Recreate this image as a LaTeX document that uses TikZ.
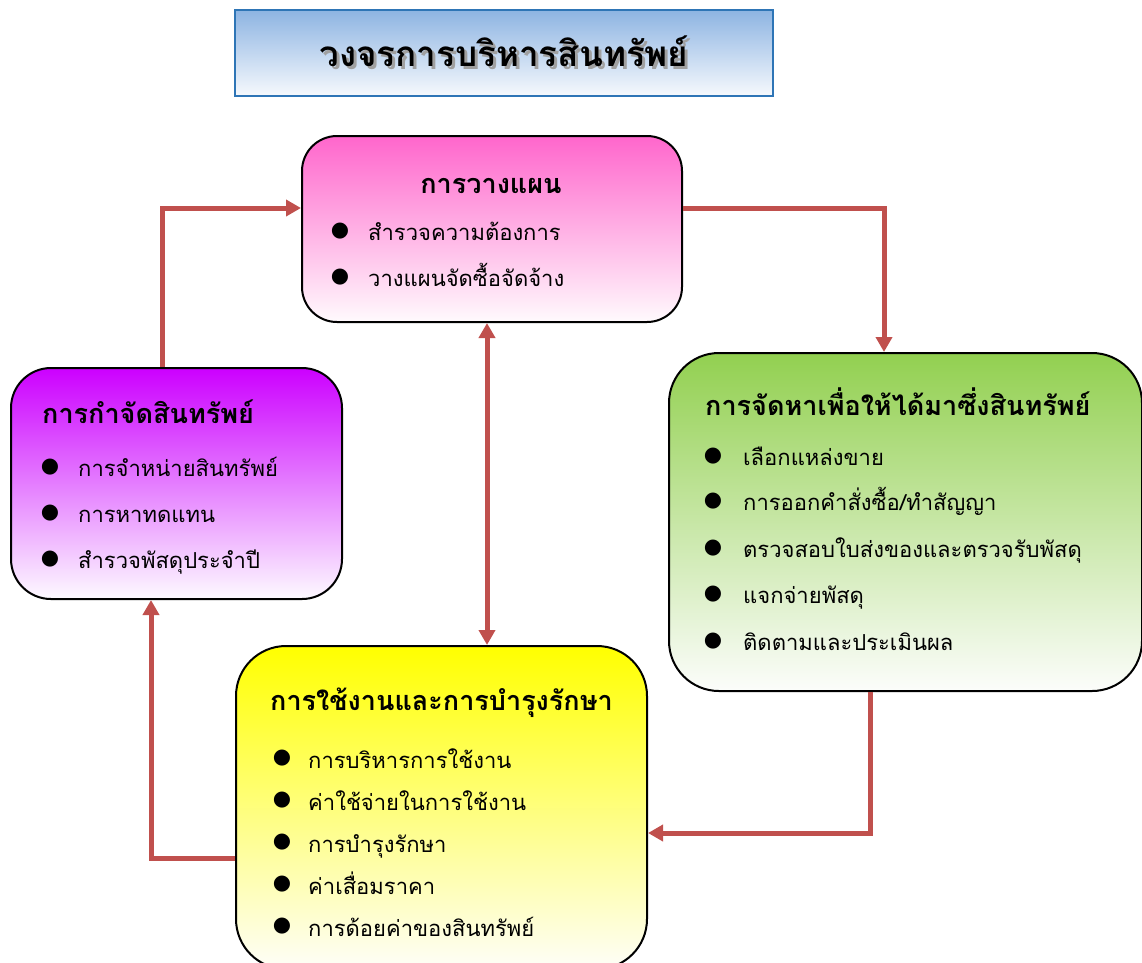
\documentclass[tikz,border=0pt]{standalone}
\usepackage{fontspec}
\newfontfamily\thai[Script=Thai]{Loma}
\newfontfamily\sym{DejaVu Sans}
\usetikzlibrary{arrows.meta}
\definecolor{flow}{HTML}{C0504D}
\definecolor{frameblue}{HTML}{2E75B6}
\definecolor{bannertop}{HTML}{8DB4E2}
\definecolor{bannerbot}{HTML}{F6F9FD}
\definecolor{plantop}{HTML}{FF66CC}
\definecolor{planbot}{HTML}{FFFAFD}
\definecolor{proctop}{HTML}{92D050}
\definecolor{procbot}{HTML}{FCFDFB}
\definecolor{disptop}{HTML}{CC00FF}
\definecolor{dispbot}{HTML}{FDFAFF}
\definecolor{usetop}{HTML}{FFFF00}
\definecolor{usebot}{HTML}{FEFEF8}
\definecolor{shadowgray}{HTML}{A0A0A0}
\newcommand{\bul}{{\sym\fontsize{21}{21}\selectfont ●}}
% text with a soft gray drop shadow, set as one box
\newcommand{\shadowed}[1]{\makebox[0pt][l]{\hspace{3pt}\raisebox{-3pt}{\textcolor{shadowgray}{#1}}}#1}
\begin{document}
\begin{tikzpicture}[x=1pt,y=-1pt,font=\thai]
\tikzset{
  card/.style={draw=black, line width=2pt, rounded corners=#1, anchor=north west, inner sep=0pt},
  head/.style={font=\thai\bfseries\fontsize{27}{32}\selectfont, inner sep=0pt, anchor=base west},
  item/.style={font=\thai\fontsize{22}{26}\selectfont, anchor=base west, inner sep=0pt},
  dot/.style={anchor=center, inner sep=0pt},
  link/.style={draw=flow, line width=5pt, -{Triangle[length=15pt,width=16pt]}},
  link2/.style={draw=flow, line width=5pt, {Triangle[length=15pt,width=16pt]}-{Triangle[length=15pt,width=16pt]}}
}
\useasboundingbox (0,0) rectangle (1142,962);

% title banner
\node[draw=frameblue, line width=2pt, anchor=north west, inner sep=0pt,
      minimum width=538pt, minimum height=86pt,
      top color=bannertop, bottom color=bannerbot] (banner) at (234,9) {};
\node[font=\thai\bfseries\fontsize{35}{40}\selectfont, inner sep=0pt, anchor=base] (bannertext) at (504,66) {\shadowed{วงจรการบริหารสินทรัพย์}};

% planning
\node[card=35pt, minimum width=380pt, minimum height=186pt,
      top color=plantop, bottom color=planbot] (plan) at (301,135) {};
\node[head, anchor=base] (planh) at (491,193) {การวางแผน};
\node[dot] (pb1) at (340,231) {\bul};
\node[item] (pt1) at (368,240) {สำรวจความต้องการ};
\node[dot] (pb2) at (340,277) {\bul};
\node[item] (pt2) at (368,286) {วางแผนจัดซื้อจัดจ้าง};

% procurement
\node[card=50pt, minimum width=473pt, minimum height=338pt,
      top color=proctop, bottom color=procbot] (proc) at (668,352) {};
\node[head] (proch) at (705,415) {การจัดหาเพื่อให้ได้มาซึ่งสินทรัพย์};
\node[dot] (rb1) at (713,456) {\bul};
\node[item] (rt1) at (743,465) {เลือกแหล่งขาย};
\node[dot] (rb2) at (713,501) {\bul};
\node[item] (rt2) at (743,510) {การออกคำสั่งซื้อ/ทำสัญญา};
\node[dot] (rb3) at (713,548) {\bul};
\node[item] (rt3) at (743,557) {ตรวจสอบใบส่งของและตรวจรับพัสดุ};
\node[dot] (rb4) at (713,594) {\bul};
\node[item] (rt4) at (743,603) {แจกจ่ายพัสดุ};
\node[dot] (rb5) at (713,641) {\bul};
\node[item] (rt5) at (743,650) {ติดตามและประเมินผล};

% disposal
\node[card=40pt, minimum width=331pt, minimum height=231pt,
      top color=disptop, bottom color=dispbot] (disp) at (10,367) {};
\node[head] (disph) at (42,423) {การกำจัดสินทรัพย์};
\node[dot] (db1) at (50,467) {\bul};
\node[item] (dt1) at (78,476) {การจำหน่ายสินทรัพย์};
\node[dot] (db2) at (50,513) {\bul};
\node[item] (dt2) at (78,522) {การหาทดแทน};
\node[dot] (db3) at (50,559) {\bul};
\node[item] (dt3) at (78,568) {สำรวจพัสดุประจำปี};

% use and maintenance
\node[card=50pt, minimum width=411pt, minimum height=323pt,
      top color=usetop, bottom color=usebot] (use) at (235,645) {};
\node[head] (useh) at (270,710) {การใช้งานและการบำรุงรักษา};
\node[dot] (ub1) at (282,758) {\bul};
\node[item] (ut1) at (308,768) {การบริหารการใช้งาน};
\node[dot] (ub2) at (282,800) {\bul};
\node[item] (ut2) at (308,810) {ค่าใช้จ่ายในการใช้งาน};
\node[dot] (ub3) at (282,842) {\bul};
\node[item] (ut3) at (308,852) {การบำรุงรักษา};
\node[dot] (ub4) at (282,884) {\bul};
\node[item] (ut4) at (308,894) {ค่าเสื่อมราคา};
\node[dot] (ub5) at (282,926) {\bul};
\node[item] (ut5) at (308,936) {การด้อยค่าของสินทรัพย์};

% cycle connectors
\draw[link] ([xshift=152pt]disp.north west) |- ([yshift=21pt]plan.west);
\draw[link] ([yshift=21pt]plan.east) -| ([xshift=-21.5pt]proc.north);
\draw[link] ([xshift=-35.5pt]proc.south) |- ([yshift=-25.5pt]use.east);
\draw[link] ([yshift=-50.5pt]use.west) -| ([xshift=-25.5pt]disp.south);
\draw[link2] ([xshift=-5pt]plan.south) -- ([xshift=-5pt]plan.south |- use.north);
\end{tikzpicture}
\end{document}
